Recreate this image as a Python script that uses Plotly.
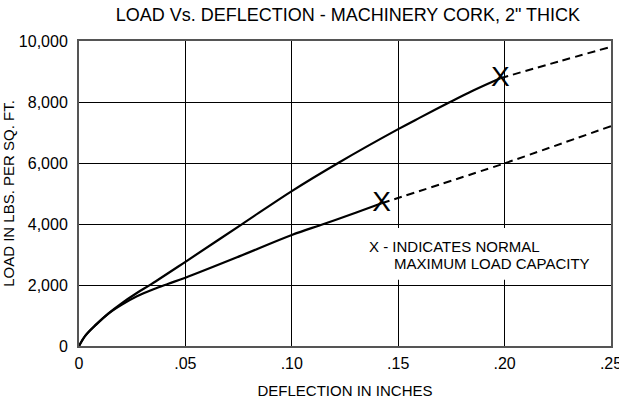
import plotly.graph_objects as go

# Deflection (in) vs load (lbs per sq. ft.) for machinery cork, 2" thick
upper_x = [0, 0.003, 0.008, 0.014, 0.02, 0.027, 0.034, 0.05, 0.0765, 0.10, 0.122, 0.15, 0.16, 0.173, 0.185, 0.198]
upper_y = [0, 340, 700, 1080, 1400, 1730, 2030, 2760, 3990, 5080, 6010, 7110, 7480, 7950, 8370, 8780]
upper_ext_x = [0.198, 0.225, 0.25]
upper_ext_y = [8780, 9320, 9810]

lower_x = [0, 0.003, 0.008, 0.014, 0.02, 0.027, 0.035, 0.042, 0.05, 0.075, 0.10, 0.115, 0.13, 0.1422]
lower_y = [0, 340, 700, 1070, 1350, 1620, 1860, 2040, 2240, 2930, 3640, 4000, 4370, 4680]
lower_ext_x = [0.1422, 0.20, 0.25]
lower_ext_y = [4680, 5990, 7210]

# normal maximum load capacity points
max_x = [0.198, 0.1422]
max_y = [8760, 4660]

x_ticks = [0, 0.05, 0.10, 0.15, 0.20, 0.25]
x_tick_text = ["0", ".05", ".10", ".15", ".20", ".25"]
y_ticks = [0, 2000, 4000, 6000, 8000, 10000]
y_tick_text = ["0", "2,000", "4,000", "6,000", "8,000", "10,000"]

FONT = "Liberation Sans, Arial, sans-serif"

fig = go.Figure()
for xs, ys in [(upper_x, upper_y), (lower_x, lower_y)]:
    fig.add_trace(go.Scatter(x=xs, y=ys, mode="lines",
                             line=dict(color="black", width=2.2, shape="spline", smoothing=1.0),
                             hoverinfo="skip"))
for xs, ys in [(upper_ext_x, upper_ext_y), (lower_ext_x, lower_ext_y)]:
    fig.add_trace(go.Scatter(x=xs, y=ys, mode="lines",
                             line=dict(color="black", width=2, dash="8px,5px", shape="spline", smoothing=0.6),
                             hoverinfo="skip"))
fig.add_trace(go.Scatter(x=max_x, y=max_y, mode="text", text=["X", "X"],
                         textposition="middle center",
                         textfont=dict(family=FONT, size=28, color="black"),
                         hoverinfo="skip"))

# white panel behind the legend note
fig.add_shape(type="rect", xref="x", yref="y", x0=0.13, x1=0.2495, y0=2170, y1=3870,
              fillcolor="white", line=dict(width=0), layer="between")

fig.add_annotation(x=0.1353, y=3250, xref="x", yref="y", text="X - INDICATES NORMAL",
                   showarrow=False, xanchor="left", yanchor="middle",
                   font=dict(family=FONT, size=15, color="black"))
fig.add_annotation(x=0.1471, y=2720, xref="x", yref="y", text="MAXIMUM LOAD CAPACITY",
                   showarrow=False, xanchor="left", yanchor="middle",
                   font=dict(family=FONT, size=15, color="black"))

fig.update_layout(
    width=619, height=399,
    margin=dict(l=79, r=8, t=41, b=53, autoexpand=False),
    paper_bgcolor="white", plot_bgcolor="white",
    showlegend=False,
    font=dict(family=FONT, size=16, color="black"),
    title=dict(text="LOAD Vs. DEFLECTION - MACHINERY CORK, 2\" THICK",
               x=0.562, xanchor="center", y=0.962, yanchor="middle",
               font=dict(family=FONT, size=18, color="black")),
)
fig.update_xaxes(range=[0, 0.25], tickvals=x_ticks, ticktext=x_tick_text,
                 showgrid=True, gridcolor="black", gridwidth=1, zeroline=False,
                 showline=True, linecolor="#555555", linewidth=2, mirror=True,
                 ticks="", ticklabelstandoff=2, automargin=False,
                 ticklabeloverflow="allow",
                 tickfont=dict(family=FONT, size=16, color="black"),
                 title=dict(text="DEFLECTION IN INCHES", standoff=16,
                            font=dict(family=FONT, size=15, color="black")))
fig.update_yaxes(range=[0, 10000], tickvals=y_ticks, ticktext=y_tick_text,
                 showgrid=True, gridcolor="black", gridwidth=1, zeroline=False,
                 showline=True, linecolor="#555555", linewidth=2, mirror=True,
                 ticks="", ticklabelstandoff=6, automargin=False,
                 ticklabeloverflow="allow",
                 tickfont=dict(family=FONT, size=16, color="black"),
                 title=dict(text="LOAD IN LBS. PER SQ. FT.", standoff=10,
                            font=dict(family=FONT, size=15, color="black")))

fig.write_html("out.html")
